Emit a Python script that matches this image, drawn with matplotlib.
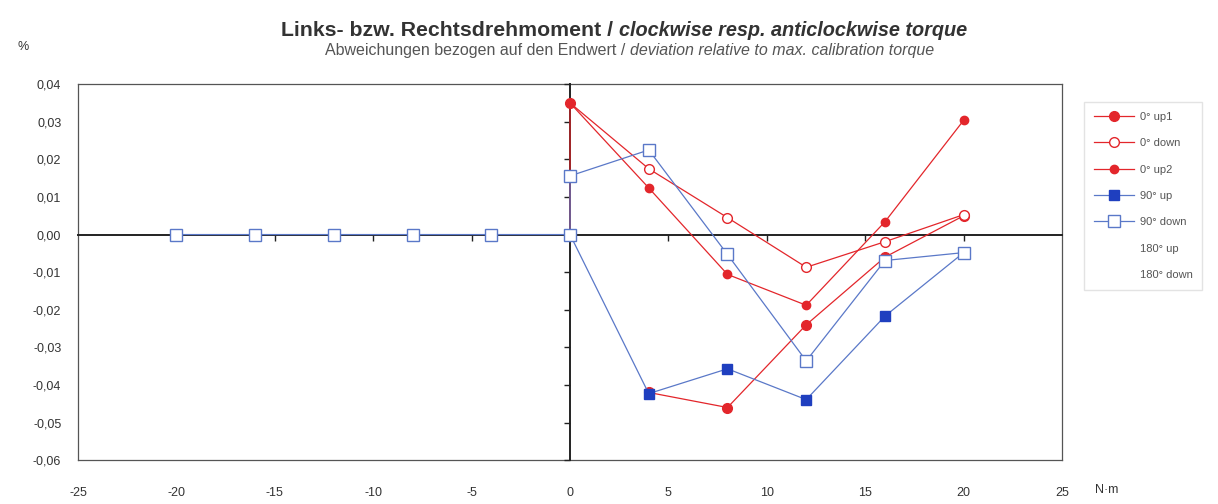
import matplotlib
matplotlib.use("Agg")
import matplotlib.pyplot as plt
from matplotlib.lines import Line2D

plt.rcParams['font.family'] = ['Liberation Sans', 'DejaVu Sans']

# ---- data ----
x_up1 = [4, 8, 12, 16, 20]
y_up1 = [-0.042, -0.046, -0.024, -0.006, 0.005]

x_down0 = [20, 16, 12, 8, 4, 0, 0]
y_down0 = [0.0053, -0.0019, -0.0087, 0.0045, 0.0175, 0.035, 0.000]

x_up2 = [0, 4, 8, 12, 16, 20]
y_up2 = [0.035, 0.0124, -0.0106, -0.0188, 0.0034, 0.0304]

x_up90 = [0, 4, 8, 12, 16, 20]
y_up90 = [0.000, -0.0423, -0.0357, -0.0439, -0.0217, -0.0048]

x_down90 = [-20, -16, -12, -8, -4, 0, 0, 4, 8, 12, 16, 20]
y_down90 = [0.0, 0.0, 0.0, 0.0, 0.0, 0.0, 0.0156, 0.0225, -0.0053, -0.0336, -0.0069, -0.0048]

labels = ["0° up1", "0° down", "0° up2", "90° up", "90° down", "180° up", "180° down"]
xticks = [-25, -20, -15, -10, -5, 0, 5, 10, 15, 20, 25]
yticks = [0.04, 0.03, 0.02, 0.01, 0.00, -0.01, -0.02, -0.03, -0.04, -0.05, -0.06]

RED = '#e3262b'
BLUE = '#1f3fbf'
LBLUE = '#5a78c8'
TXT = '#333333'

fig = plt.figure(figsize=(12.18, 5.04), dpi=100)
ax = fig.add_axes([0.064, 0.087, 0.808, 0.746])
ax.set_xlim(-25, 25)
ax.set_ylim(-0.06, 0.04)

for s in ax.spines.values():
    s.set_color('#555555')
    s.set_linewidth(0.9)
ax.set_xticks(xticks)
ax.set_xticklabels([str(v) for v in xticks])
ax.set_yticks(yticks)
ax.set_yticklabels([f"{v:.2f}".replace('.', ',').replace('-0,00', '0,00') for v in yticks])
ax.tick_params(length=0, labelsize=9, colors=TXT)
ax.tick_params(axis='x', pad=19)
ax.tick_params(axis='y', pad=12)

ax0 = fig.add_axes(ax.get_position(), frameon=True)
ax0.set_xlim(-25, 25)
ax0.set_ylim(-0.06, 0.04)
ax0.patch.set_alpha(0)
ax0.spines['left'].set_position(('data', 0))
ax0.spines['bottom'].set_position(('data', 0))
ax0.spines['right'].set_visible(False)
ax0.spines['top'].set_visible(False)
for k in ('left', 'bottom'):
    ax0.spines[k].set_color('#222222')
    ax0.spines[k].set_linewidth(1.4)
ax0.tick_params(direction='out', length=4, width=1, colors='#222222',
                labelbottom=False, labelleft=False)
ax0.set_xticks(xticks[1:-1])
ax0.set_yticks(yticks)

h1, = ax0.plot(x_up1, y_up1, color=RED, lw=0.9, marker='o', markerfacecolor=RED,
               markeredgecolor=RED, markersize=7, zorder=3)
h2, = ax0.plot(x_down0, y_down0, color=RED, lw=0.9, marker='o', markerfacecolor='white',
               markeredgecolor=RED, markersize=7, zorder=3)
h3, = ax0.plot(x_up2, y_up2, color=RED, lw=0.9, marker='o', markerfacecolor=RED,
               markeredgecolor=RED, markersize=6, zorder=3)
h4, = ax0.plot(x_up90, y_up90, color=LBLUE, lw=0.9, marker='s', markerfacecolor=BLUE,
               markeredgecolor=BLUE, markersize=7, zorder=4)
h5, = ax0.plot(x_down90, y_down90, color=LBLUE, lw=0.9, marker='s', markerfacecolor='white',
               markeredgecolor=LBLUE, markersize=8, zorder=4)
h6 = Line2D([], [], linestyle='none')
h7 = Line2D([], [], linestyle='none')

leg = fig.legend([h1, h2, h3, h4, h5, h6, h7], labels, loc='upper left',
                 bbox_to_anchor=(1084 / 1218, 1 - 102 / 504), fontsize=8,
                 labelspacing=1.47, handlelength=3.6, handletextpad=0.5, fancybox=False,
                 edgecolor='#dddddd', borderpad=0.9, borderaxespad=0)
for t in leg.get_texts():
    t.set_color('#555555')

fig.text(619 / 1218, 1 - 30 / 504, "Links- bzw. Rechtsdrehmoment / ", ha='right', va='center',
         fontsize=15.3, fontweight='bold', color=TXT)
fig.text(619 / 1218, 1 - 30 / 504, "clockwise resp. anticlockwise torque", ha='left', va='center',
         fontsize=14.3, fontweight='bold', style='italic', color=TXT)
fig.text(630 / 1218, 1 - 51 / 504, "Abweichungen bezogen auf den Endwert / ", ha='right', va='center',
         fontsize=11.5, color='#555555')
fig.text(630 / 1218, 1 - 51 / 504, "deviation relative to max. calibration torque", ha='left',
         va='center', fontsize=11.5, style='italic', color='#555555')
fig.text(18 / 1218, 1 - 47 / 504, "%", fontsize=9, color=TXT, ha='left', va='center')
fig.text(1095 / 1218, 1 - 490 / 504, "N·m", fontsize=9, color=TXT, ha='left', va='center')

fig.savefig("out.png", dpi=100)
